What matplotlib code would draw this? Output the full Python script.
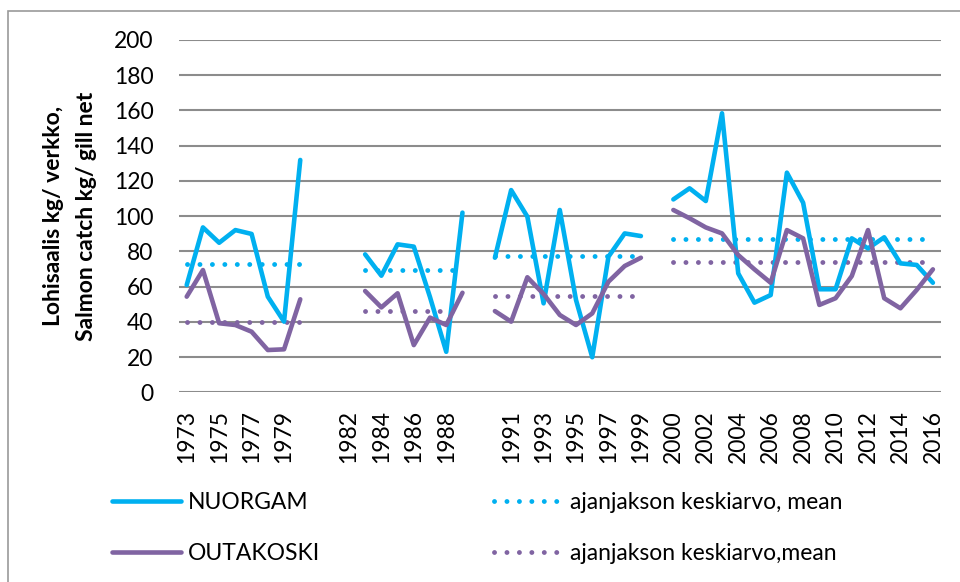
import numpy as np
import matplotlib
matplotlib.use("Agg")
import matplotlib.pyplot as plt
from matplotlib.patches import Rectangle

plt.rcParams['font.family'] = ['Lato', 'DejaVu Sans']

nan = np.nan

# x categories (blank slots separate the periods)
categories = ([str(y) for y in range(1973, 1981)] + ['', '1981', '1982']
              + [str(y) for y in range(1983, 1990)] + ['']
              + [str(y) for y in range(1990, 2000)] + ['']
              + [str(y) for y in range(2000, 2017)])

nuorgam = [60.9, 93.6, 84.9, 92.1, 89.9, 54.3, 40.1, 131.9,
           nan, nan, nan,
           78.3, 66.2, 84.0, 82.7, 54.0, 23.0, 102.0,
           nan,
           76.4, 114.8, 99.7, 50.5, 103.5, 52.4, 19.9, 77.0, 90.2, 88.7,
           nan,
           109.5, 115.8, 108.6, 158.4, 67.5, 50.9, 55.2, 124.7, 107.6,
           58.5, 58.5, 87.4, 81.7, 88.0, 73.2, 72.3, 62.2]

outakoski = [54.3, 69.4, 39.2, 38.2, 34.4, 24.0, 24.4, 52.8,
             nan, nan, nan,
             57.5, 48.2, 56.2, 26.8, 42.4, 38.2, 56.5,
             nan,
             46.1, 40.1, 65.3, 55.8, 43.9, 38.2, 44.8, 62.8, 71.7, 76.4,
             nan,
             103.5, 98.8, 93.6, 90.2, 77.9, 69.8, 62.2, 92.1, 87.4,
             49.6, 53.4, 66.0, 92.1, 53.4, 47.7, 58.1, 69.8]

# period means
periods = [('1973', '1980'), ('1983', '1989'), ('1990', '1999'), ('2000', '2016')]
nuorgam_mean = [72.7, 69.2, 77.2, 87.0]
outakoski_mean = [40.0, 46.3, 54.5, 74.1]

CYAN = '#00B0F0'
PURPLE = '#8064A2'
GRID = '#8c8c8c'
FS = 16.5


def mean_series(means):
    s = np.full(len(categories), nan)
    for (a, b), m in zip(periods, means):
        s[categories.index(a):categories.index(b) + 1] = m
    return s


x = np.arange(len(categories))

fig = plt.figure(figsize=(9.6, 5.82), dpi=100)
ax = fig.add_axes([178.6 / 960, 1 - 392.3 / 582, (941 - 178.6) / 960, 352.3 / 582])

dots = (0, (0.01, 2.55))
l1, = ax.plot(x, nuorgam, color=CYAN, lw=3.3, solid_capstyle='round', solid_joinstyle='round', label='NUORGAM', zorder=4)
l2, = ax.plot(x, outakoski, color=PURPLE, lw=3.3, solid_capstyle='round', solid_joinstyle='round', label='OUTAKOSKI', zorder=4)
l3, = ax.plot(x, mean_series(nuorgam_mean), color=CYAN, lw=3.5, linestyle=dots, dash_capstyle='round',
              label='ajanjakson keskiarvo, mean', zorder=3)
l4, = ax.plot(x, mean_series(outakoski_mean), color=PURPLE, lw=3.5, linestyle=dots, dash_capstyle='round',
              label='ajanjakson keskiarvo,mean', zorder=3)

ax.set_xlim(-0.5, len(categories) - 0.5)
ax.set_ylim(0, 200)
ax.set_yticks(np.arange(0, 201, 20))
ax.grid(axis='y', color=GRID, lw=1.5)
ax.set_axisbelow(True)
for sp in ax.spines.values():
    sp.set_visible(False)

ax.set_xticks(x[::2])
ax.set_xticklabels(categories[::2], rotation=90)
ax.tick_params(axis='x', length=0, pad=13, labelsize=FS)
ax.tick_params(axis='y', length=0, pad=18, labelsize=FS)

fig.text(70 / 960, 1 - 216 / 582, 'Lohisaalis kg/ verkko,\nSalmon catch kg/ gill net',
         rotation=90, ha='center', va='center', multialignment='center',
         fontsize=FS, fontweight='bold', linespacing=1.75)

fig.legend([l1, l2, l3, l4], [l.get_label() for l in (l1, l2, l3, l4)],
           ncol=2, loc='upper left', bbox_to_anchor=(112 / 960, 1 - 492 / 582),
           frameon=False, fontsize=FS, handlelength=3.0, handletextpad=0.3,
           columnspacing=7.6, labelspacing=1.3, borderpad=0, borderaxespad=0)

fig.patches.append(Rectangle((7.5 / 960, -0.1), 1.2, 1.1 - 10.5 / 582, transform=fig.transFigure,
                             fill=False, edgecolor='#9a9a9a', lw=1.2))

fig.savefig('out.png', dpi=100)
